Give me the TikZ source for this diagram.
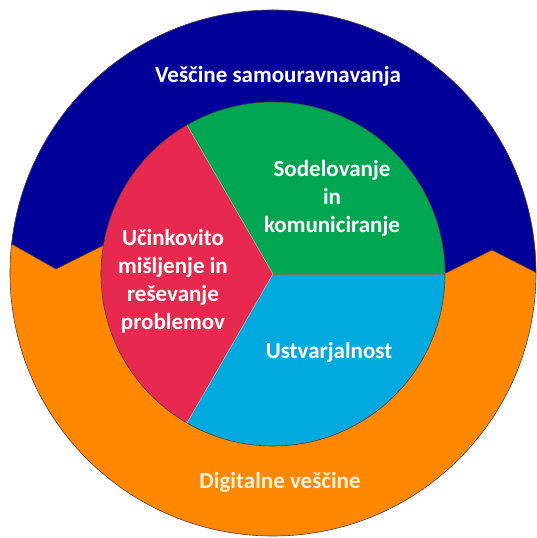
\documentclass[tikz,border=0pt]{standalone}
\usepackage{fontspec}
\setmainfont{Carlito}
\definecolor{cblue}{RGB}{0,0,153}
\definecolor{cgreen}{RGB}{0,166,81}
\definecolor{cred}{RGB}{232,41,79}
\definecolor{ccyan}{RGB}{0,170,222}
\definecolor{corange}{RGB}{255,136,0}
\definecolor{ccream}{RGB}{255,242,222}
\definecolor{cedge}{RGB}{80,60,70}
\tikzset{
  lbl/.style={text=white, align=center, inner sep=0pt, font=\fontsize{23}{28}\selectfont\bfseries},
  edge/.style={draw=cedge, line width=0.6pt}
}
\begin{document}
\begin{tikzpicture}[x=1pt,y=1pt]
\useasboundingbox (0,0) rectangle (537,538);
\coordinate (oc) at (273,265);
\coordinate (ic) at (273,264);
% outer disc
\fill[corange] (oc) circle[radius=263];
\begin{scope}
  \clip (oc) circle[radius=263];
  \fill[cblue] (-5,303.5) -- (56,269) -- (104,293) -- (446,265) -- (492,288) -- (545,261) -- (545,545) -- (-5,545) -- cycle;
  \draw[edge] (-5,303.5) -- (56,269) -- (104,293);
  \draw[edge] (446,265) -- (492,288) -- (545,261);
\end{scope}
\draw[edge] (oc) circle[radius=263];
% inner pie
\fill[cgreen] (ic) -- ++(0:172) arc[start angle=0,end angle=120,radius=172] -- cycle;
\fill[cred] (ic) -- ++(120:172) arc[start angle=120,end angle=240,radius=172] -- cycle;
\fill[ccyan] (ic) -- ++(240:172) arc[start angle=240,end angle=360,radius=172] -- cycle;
\draw[draw=black!55, line width=0.5pt] (ic) -- ++(0:172);
\draw[draw=white!75!black, line width=0.5pt] (ic) -- ++(120:172);
\draw[draw=white!75!black, line width=0.5pt] (ic) -- ++(240:172);
\draw[edge] (ic) circle[radius=172];
% labels
\node[lbl] (self) at (278,462) {Veščine samouravnavanja};
\node[lbl] (collab) at (332,340) {Sodelovanje\\in\\komuniciranje};
\node[lbl] (think) at (173,257) {Učinkovito\\mišljenje in\\reševanje\\problemov};
\node[lbl] (create) at (329,186) {Ustvarjalnost};
\node[lbl, text=ccream] (digital) at (280,56) {Digitalne veščine};
\end{tikzpicture}
\end{document}
